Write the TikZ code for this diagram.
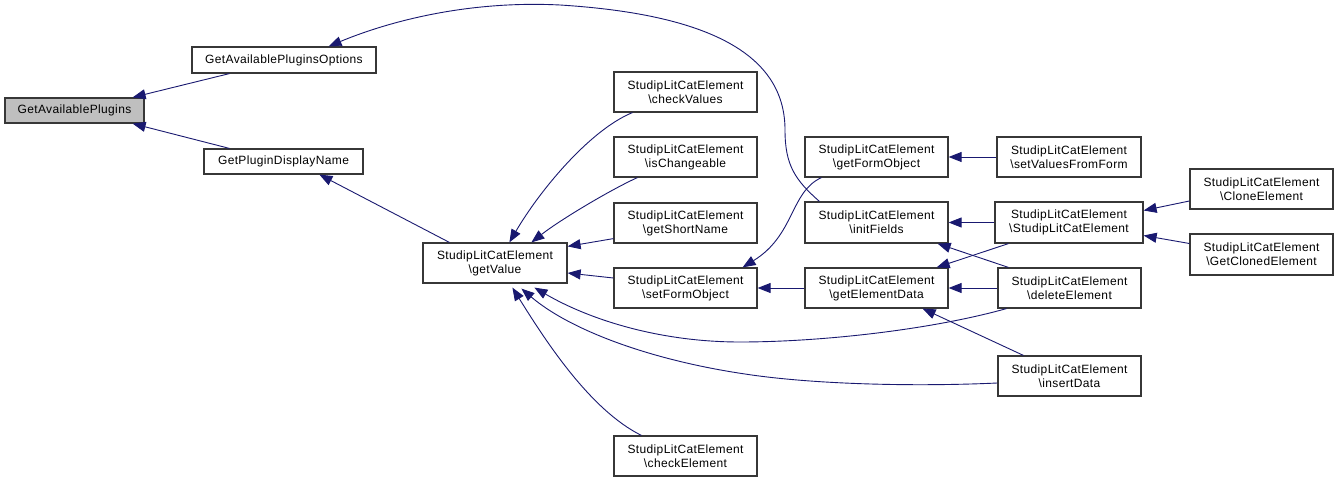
\documentclass[tikz,border=0pt]{standalone}
\usepackage{fontspec}
\setmainfont{Liberation Sans}[LetterSpace=3.0]
\usetikzlibrary{arrows.meta,calc}
\definecolor{edgecol}{RGB}{25,25,112}
\definecolor{boxline}{RGB}{55,55,55}
\tikzset{
  box/.style={draw=boxline, line width=1.2bp, fill=white, inner sep=0pt, align=center,
    minimum height=40bp, minimum width=143bp, font=\fontsize{12bp}{14bp}\selectfont},
  onebox/.style={box, minimum height=25bp},
  edge/.style={draw=edgecol, line width=0.9bp, -{Triangle[length=13bp,width=10bp]}},
}
\newcommand{\bs}{\textbackslash}
\begin{document}
\begin{tikzpicture}[x=1bp,y=-1bp]
\useasboundingbox (0,0) rectangle (1339,482);
\fill[white] (0,0) rectangle (1339,482);
% nodes
\node[onebox, minimum width=139bp, fill={rgb,255:red,191;green,191;blue,191}] (gap) at (74.5,110.5) {GetAvailablePlugins};
\node[onebox, minimum width=184bp, minimum height=26bp] (opt) at (284,60) {GetAvailablePluginsOptions};
\node[onebox, minimum width=159bp] (dn) at (283.5,161.5) {GetPluginDisplayName};
\node[box, minimum width=144bp] (gv) at (495,263) {StudipLitCatElement\\\bs getValue};
\node[box] (cv) at (685.5,92) {StudipLitCatElement\\\bs checkValues};
\node[box] (ic) at (685.5,157) {StudipLitCatElement\\\bs isChangeable};
\node[box] (gsn) at (685.5,223) {StudipLitCatElement\\\bs getShortName};
\node[box] (sfo) at (685.5,288) {StudipLitCatElement\\\bs setFormObject};
\node[box] (ce) at (685.5,456) {StudipLitCatElement\\\bs checkElement};
\node[box] (gfo) at (876.5,157) {StudipLitCatElement\\\bs getFormObject};
\node[box, minimum height=41bp] (inf) at (876.5,222.5) {StudipLitCatElement\\\bs initFields};
\node[box] (ged) at (876.5,288) {StudipLitCatElement\\\bs getElementData};
\node[box, minimum width=144bp] (svf) at (1069,157) {StudipLitCatElement\\\bs setValuesFromForm};
\node[box, minimum width=148bp, minimum height=41bp] (ctor) at (1069,222.5) {StudipLitCatElement\\\bs StudipLitCatElement};
\node[box] (del) at (1069.5,288) {StudipLitCatElement\\\bs deleteElement};
\node[box] (ins) at (1069.5,376) {StudipLitCatElement\\\bs insertData};
\node[box] (clo) at (1261.5,189) {StudipLitCatElement\\\bs CloneElement};
\node[box, minimum height=41bp] (gce) at (1261.5,254.5) {StudipLitCatElement\\\bs GetClonedElement};
% edges
\draw[edge] ($(opt.south west)+(38,0)$) -- ($(gap.north east)+(-12,0)$);
\draw[edge] ($(dn.north west)+(26,0)$) -- ($(gap.south east)+(-12,0)$);
\draw[edge] ($(inf.north west)+(15,0)$) .. controls (795,180) and (785,165) .. (785,130)
  .. controls (785,60) and (720,15) .. (560,5)
  .. controls (460,0) and (380,25) .. ($(opt.north east)+(-48,0)$);
\draw[edge] ($(gv.north west)+(27,0)$) -- ($(dn.south west)+(116,0)$);
\draw[edge] ($(cv.south west)+(19,0)$) .. controls (590,130) and (540,190) .. ($(gv.north west)+(87,0)$);
\draw[edge] ($(ic.south west)+(24,0)$) .. controls (610,190) and (560,220) .. ($(gv.north west)+(109,0)$);
\draw[edge] ($(gsn.south west)+(0,-5)$) -- ($(gv.north east)+(0,4)$);
\draw[edge] ($(sfo.west)+(0,-10)$) -- ($(gv.east)+(0,10)$);
\draw[edge] ($(del.south west)+(9,0)$) .. controls (930,330) and (820,342) .. (740,342)
  .. controls (660,342) and (590,320) .. ($(gv.south west)+(112,4)$);
\draw[edge] ($(ins.west)+(0,7)$) .. controls (910,387) and (810,384) .. (745,374)
  .. controls (650,360) and (570,330) .. ($(gv.south west)+(99,5)$);
\draw[edge] ($(ce.north west)+(28,0)$) .. controls (590,410) and (545,340) .. ($(gv.south west)+(90,4)$);
\draw[edge] ($(gfo.south west)+(17,0)$) .. controls (790,192) and (795,235) .. ($(sfo.north east)+(-15,0)$);
\draw[edge] (ged.west) -- (sfo.east);
\draw[edge] (svf.west) -- (gfo.east);
\draw[edge] (ctor.west) -- (inf.east);
\draw[edge] ($(del.north west)+(11,0)$) -- ($(inf.south east)+(-11,0)$);
\draw[edge] ($(ctor.south west)+(14,0)$) -- ($(ged.north east)+(-12,0)$);
\draw[edge] (del.west) -- (ged.east);
\draw[edge] ($(ins.north west)+(26,0)$) -- ($(ged.south east)+(-26,0)$);
\draw[edge] ($(clo.west)+(0,12)$) -- ($(ctor.east)+(0,-12)$);
\draw[edge] ($(gce.west)+(0,-11)$) -- ($(ctor.east)+(0,13)$);
\end{tikzpicture}
\end{document}
